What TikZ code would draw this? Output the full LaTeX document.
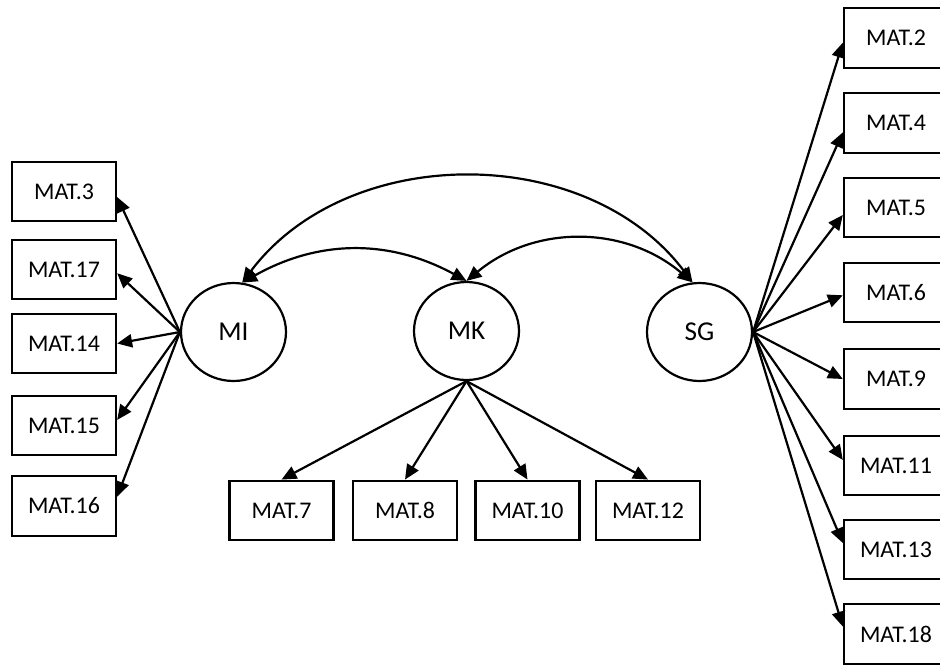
\documentclass[tikz,border=0pt]{standalone}
\usepackage{fontspec}
\setmainfont{Carlito}
\usetikzlibrary{arrows.meta}
\usetikzlibrary{shapes.geometric}

\begin{document}
\begin{tikzpicture}[x=0.02cm,y=-0.02cm,
				every node/.style={font=\fontsize{13.6}{15}\selectfont},
				latnode/.style={ellipse,draw,line width=1.25pt,minimum width=2.1cm,minimum height=1.96cm,inner sep=0pt,font=\fontsize{15.5}{17}\selectfont},
				obsnode/.style={rectangle,draw,line width=1.35pt,minimum width=2.08cm,minimum height=1.19cm,inner sep=0pt},
				load/.style={-{Triangle[length=8.5pt,width=7.5pt]},line width=1.25pt},
				cov/.style={{Triangle[length=8.5pt,width=7.5pt]}-{Triangle[length=8.5pt,width=7.5pt]},line width=1.25pt}
				]
				\useasboundingbox (0,0) rectangle (940,664);
				% factors
				\node (mi) [latnode] at (233.5,332) {MI};
				\node (mk) [latnode] at (466.5,331) {MK};
				\node (sg) [latnode] at (699.5,332) {SG};
				% items of MI
				\node (m3) [obsnode] at (64,191.5) {MAT.3};
				\node (m17) [obsnode] at (64,269.5) {MAT.17};
				\node (m14) [obsnode] at (64,343.5) {MAT.14};
				\node (m15) [obsnode] at (64,425.5) {MAT.15};
				\node (m16) [obsnode] at (64,506) {MAT.16};
				% items of MK
				\node (m7) [obsnode] at (281.5,510.5) {MAT.7};
				\node (m8) [obsnode] at (405,510.5) {MAT.8};
				\node (m10) [obsnode] at (527.5,510.5) {MAT.10};
				\node (m12) [obsnode] at (648,510.5) {MAT.12};
				% items of SG
				\node (m2) [obsnode] at (896,38) {MAT.2};
				\node (m4) [obsnode] at (896,123) {MAT.4};
				\node (m5) [obsnode] at (896,207.5) {MAT.5};
				\node (m6) [obsnode] at (896,292.5) {MAT.6};
				\node (m9) [obsnode] at (896,379) {MAT.9};
				\node (m11) [obsnode] at (896,465.5) {MAT.11};
				\node (m13) [obsnode] at (896,549.5) {MAT.13};
				\node (m18) [obsnode] at (896,634) {MAT.18};
				% loadings
				\draw [load] (mi.west) -- (m3.354);
				\draw [load] (mi.west) -- (m17.356);
				\draw [load] (mi.west) -- (m14.east);
				\draw [load] (mi.west) -- (m15.6);
				\draw [load] (mi.west) -- (m16.10);
				\draw [load] (mk.south) -- (m7.north);
				\draw [load] (mk.south) -- (m8.north);
				\draw [load] (mk.south) -- (m10.north);
				\draw [load] (mk.south) -- (m12.north);
				\draw [load] (sg.east) -- (m2.185);
				\draw [load] (sg.east) -- (m4.190);
				\draw [load] (sg.east) -- (m5.188);
				\draw [load] (sg.east) -- (m6.183);
				\draw [load] (sg.east) -- (m9.west);
				\draw [load] (sg.east) -- (m11.174);
				\draw [load] (sg.east) -- (m13.173);
				\draw [load] (sg.east) -- (m18.172);
				% covariances
				\draw [cov] (mi.80) to[bend left=53] (sg.98);
				\draw [cov] (mi.80) to[bend left=29] (mk.north);
				\draw [cov] (mk.north) to[bend left=40] (sg.98);
\end{tikzpicture}
\end{document}
